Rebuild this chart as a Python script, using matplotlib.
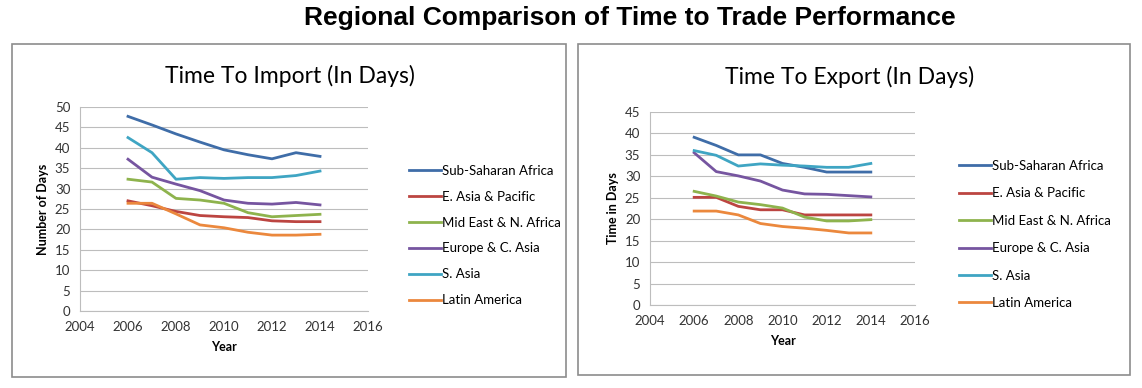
import matplotlib.pyplot as plt
from matplotlib.patches import Rectangle

years = [2006, 2007, 2008, 2009, 2010, 2011, 2012, 2013, 2014]
regions = ['Sub-Saharan Africa', 'E. Asia & Pacific', 'Mid East & N. Africa',
           'Europe & C. Asia', 'S. Asia', 'Latin America']
colors = ['#3F6DA8', '#BC4541', '#8EB34D', '#7655A0', '#3FA5C3', '#EB883D']

# time to import (days)
imp_ssa = [47.7, 45.6, 43.4, 41.4, 39.5, 38.3, 37.3, 38.8, 37.9]
imp_eap = [27.0, 25.8, 24.4, 23.4, 23.1, 22.9, 22.1, 21.9, 21.9]
imp_mena = [32.3, 31.6, 27.6, 27.2, 26.4, 24.1, 23.1, 23.4, 23.7]
imp_eca = [37.2, 32.8, 31.1, 29.5, 27.2, 26.4, 26.2, 26.6, 26.0]
imp_sa = [42.5, 38.8, 32.3, 32.7, 32.5, 32.7, 32.7, 33.2, 34.3]
imp_lac = [26.4, 26.4, 23.8, 21.1, 20.4, 19.3, 18.6, 18.6, 18.8]

# time to export (days)
exp_ssa = [39.1, 37.2, 35.0, 35.0, 33.0, 32.1, 31.0, 31.0, 31.0]
exp_eap = [25.1, 25.1, 23.0, 22.2, 22.2, 21.0, 21.0, 21.0, 21.0]
exp_mena = [26.5, 25.4, 24.0, 23.4, 22.6, 20.5, 19.6, 19.6, 19.9]
exp_eca = [35.5, 31.1, 30.1, 28.9, 26.8, 25.9, 25.8, 25.5, 25.2]
exp_sa = [36.0, 34.9, 32.4, 32.9, 32.6, 32.4, 32.1, 32.1, 33.0]
exp_lac = [21.9, 21.9, 21.0, 19.0, 18.3, 17.9, 17.4, 16.8, 16.8]

W, H = 1142, 388
fig = plt.figure(figsize=(W / 100, H / 100), dpi=100)
fig.patch.set_facecolor('white')

fig.text(630 / W, 1 - 18 / H, 'Regional Comparison of Time to Trade Performance',
         ha='center', va='center', fontsize=19, fontweight='bold',
         family='Liberation Sans')

def px_box(x0, y0, x1, y1):
    fig.patches.append(Rectangle((x0 / W, 1 - y1 / H), (x1 - x0) / W, (y1 - y0) / H,
                                 transform=fig.transFigure, fill=False,
                                 edgecolor='#8C8C8C', linewidth=1.2))

def panel(rect, data, ymax, title, ylabel, title_xy, leg_xy, leg_space):
    x0, y0, x1, y1 = rect
    ax = fig.add_axes([x0 / W, 1 - y1 / H, (x1 - x0) / W, (y1 - y0) / H])
    for vals, name, c in zip(data, regions, colors):
        ax.plot(years, vals, color=c, linewidth=2.0, label=name)
    ax.set_xlim(2004, 2016)
    ax.set_ylim(0, ymax)
    ax.set_xticks(range(2004, 2017, 2))
    ax.set_yticks(range(0, ymax + 1, 5))
    ax.yaxis.grid(True, color='#BDBDBD', linewidth=0.8)
    ax.set_axisbelow(True)
    for s in ['top', 'right']:
        ax.spines[s].set_visible(False)
    for s in ['left', 'bottom']:
        ax.spines[s].set_color('#BDBDBD')
        ax.spines[s].set_linewidth(0.8)
    ax.tick_params(length=0, labelsize=9.5, labelcolor='#333333', pad=7)
    for lab in ax.get_xticklabels() + ax.get_yticklabels():
        lab.set_family('Lato')
    ax.set_xlabel('Year', fontsize=9, fontweight='bold', family='Lato', labelpad=6)
    ax.set_ylabel(ylabel, fontsize=9, fontweight='bold', family='Lato', labelpad=4)
    fig.text(title_xy[0] / W, 1 - title_xy[1] / H, title, ha='center', va='center',
             fontsize=16.5, family='Lato')
    fig.legend(*ax.get_legend_handles_labels(), loc='upper left',
               bbox_to_anchor=(leg_xy[0] / W, 1 - leg_xy[1] / H),
               frameon=False, handlelength=2.4, handletextpad=0.1,
               labelspacing=leg_space, prop={'family': 'Lato', 'size': 9.5})
    return ax

px_box(12, 44, 566, 377)
px_box(578, 44, 1130, 375)

panel((80, 107, 368, 311), [imp_ssa, imp_eap, imp_mena, imp_eca, imp_sa, imp_lac],
      50, 'Time To Import (In Days)', 'Number of Days', (290, 76), (397, 153), 1.05)
panel((650, 112, 915, 305), [exp_ssa, exp_eap, exp_mena, exp_eca, exp_sa, exp_lac],
      45, 'Time To Export (In Days)', 'Time in Days', (850, 77), (947, 148), 1.17)

fig.savefig('out.png', dpi=100)
